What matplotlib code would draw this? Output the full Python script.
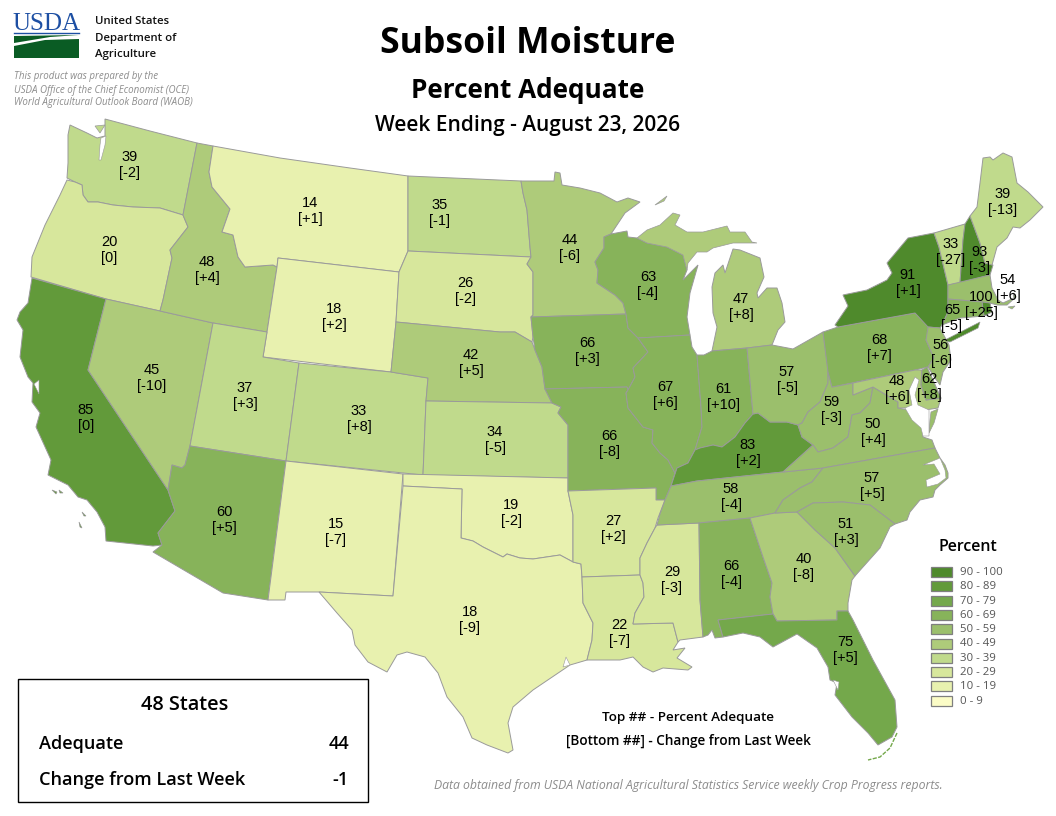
import matplotlib
matplotlib.use("Agg")
import matplotlib.pyplot as plt
from matplotlib.colors import BoundaryNorm, ListedColormap
from matplotlib.patches import Polygon, Rectangle

states = ["WA", "OR", "CA", "NV", "ID", "MT", "WY", "UT", "AZ", "CO", "NM", "ND", "SD", "NE", "KS", "OK",
          "TX", "MN", "IA", "MO", "AR", "LA", "WI", "IL", "MS", "MI", "IN", "KY", "TN", "AL", "GA", "FL",
          "OH", "WV", "VA", "NC", "SC", "PA", "NY", "VT", "NH", "ME", "MA", "RI", "CT", "NJ", "MD", "DE"]
percent = [39, 20, 85, 45, 48, 14, 18, 37, 60, 33, 15, 35, 26, 42, 34, 19,
           18, 44, 66, 66, 27, 22, 63, 67, 29, 47, 61, 83, 58, 66, 40, 75,
           57, 59, 50, 57, 51, 68, 91, 33, 93, 39, 54, 100, 65, 56, 48, 62]
change = ["-2", "0", "0", "-10", "+4", "+1", "+2", "+3", "+5", "+8", "-7", "-1", "-2", "+5", "-5", "-2",
          "-9", "-6", "+3", "-8", "+2", "-7", "-4", "+6", "-3", "+8", "+10", "+2", "-4", "-4", "-8", "+5",
          "-5", "-3", "+4", "+5", "+3", "+7", "+1", "-27", "-3", "-13", "+6", "+25", "-5", "-6", "+6", "+8"]
label_x = [130, 109, 86, 152, 207, 310, 334, 245, 224, 359, 336, 440, 465, 471, 495, 511,
           470, 570, 587, 609, 613, 619, 648, 665, 672, 741, 723, 748, 731, 731, 804, 845,
           787, 832, 873, 872, 846, 879, 908, 951, 979, 1003, 1008, 981, 952, 941, 897, 929]
label_y = [165, 250, 418, 378, 270, 211, 317, 396, 520, 419, 532, 213, 291, 363, 440, 513,
           620, 248, 351, 444, 529, 633, 285, 395, 580, 307, 397, 453, 497, 574, 567, 650,
           380, 410, 432, 486, 532, 348, 283, 252, 260, 202, 288, 305, 318, 353, 389, 387]

legend_labels = ["90 - 100", "80 - 89", "70 - 79", "60 - 69", "50 - 59", "40 - 49", "30 - 39", "20 - 29", "10 - 19", "0 - 9"]
legend_colors = ["#4f8a2c", "#629a3a", "#74a84b", "#87b35a", "#9bbf6c", "#aecb7a", "#c0da8c", "#d7e79c", "#e8f1af", "#fbfcc6"]
bin_edges = [0, 10, 20, 30, 40, 50, 60, 70, 80, 90, 101]

# outlines are in picture pixels
outlines = {
    "WA": [(105,119),(150,131),(197,143),(183,215),(160,208),(133,207),(113,205),(98,202),(88,202),(83,195),(82,185),(75,182),(67,178),(68,163),(68,135),(70,125),(87,133),(97,138),(105,136)],
    "OR": [(67,180),(75,182),(82,185),(83,195),(88,202),(98,202),(113,205),(133,207),(160,208),(183,215),(188,227),(170,250),(172,258),(163,300),(160,311),(106,299),(31,277),(32,257),(45,225),(60,195)],
    "CA": [(32,278),(106,299),(88,370),(168,490),(175,511),(158,533),(162,545),(153,546),(106,541),(105,527),(97,512),(87,500),(78,497),(68,485),(48,475),(51,460),(36,427),(40,413),(32,402),(33,383),(28,377),(20,357),(23,330),(17,320),(20,312),(28,303)],
    "NV": [(106,299),(160,311),(213,323),(190,446),(185,465),(182,468),(172,465),(168,490),(88,370)],
    "ID": [(197,143),(213,146),(209,172),(212,187),(230,209),(222,232),(233,235),(238,257),(245,267),(273,265),(277,267),(267,332),(213,323),(160,311),(163,300),(172,258),(170,250),(188,227),(183,215)],
    "MT": [(213,146),(280,158),(350,168),(408,176),(408,251),(399,272),(278,258),(277,267),(273,265),(245,267),(238,257),(233,235),(222,232),(230,209),(212,187),(209,172)],
    "WY": [(278,258),(399,272),(396,322),(391,372),(263,357),(267,332),(277,267)],
    "UT": [(213,323),(267,332),(263,357),(299,363),(286,461),(190,446)],
    "AZ": [(190,446),(286,461),(268,600),(223,593),(153,552),(162,545),(158,533),(175,511),(168,490),(172,465),(182,468),(185,465)],
    "CO": [(299,363),(391,372),(428,378),(426,401),(423,475),(286,461)],
    "NM": [(286,461),(403,474),(393,596),(319,592),(286,592),(285,600),(268,600)],
    "ND": [(408,176),(521,181),(523,193),(527,210),(530,247),(531,257),(408,251)],
    "SD": [(408,251),(531,257),(527,264),(533,272),(533,315),(531,317),(533,337),(532,342),(515,332),(500,332),(396,322),(399,272)],
    "NE": [(396,322),(500,332),(515,332),(532,342),(535,350),(542,367),(545,389),(552,403),(426,401),(428,378),(391,372)],
    "KS": [(426,401),(552,403),(561,407),(558,413),(568,425),(568,478),(423,475)],
    "OK": [(403,474),(568,478),(568,491),(573,515),(573,562),(560,555),(533,559),(520,558),(507,554),(503,557),(483,547),(473,541),(461,538),(462,489),(403,486)],
    "TX": [(403,486),(462,489),(461,538),(473,541),(483,547),(503,557),(507,554),(520,558),(533,559),(560,555),(573,562),(581,564),(582,577),(583,603),(593,623),(592,640),(587,660),(570,665),(533,690),(513,707),(508,723),(513,750),(508,753),(487,745),(472,738),(463,717),(447,697),(438,673),(425,657),(407,652),(397,655),(387,672),(368,662),(355,645),(352,630),(337,613),(319,592),(393,596)],
    "MN": [(521,181),(554,181),(555,172),(560,173),(562,185),(580,188),(600,193),(617,202),(628,198),(640,202),(625,213),(611,234),(604,237),(604,248),(595,262),(598,270),(597,283),(615,295),(623,303),(626,314),(531,317),(533,315),(533,272),(527,264),(531,257),(530,247),(527,210),(523,193)],
    "IA": [(531,317),(626,314),(628,328),(638,338),(648,352),(633,368),(635,377),(628,390),(627,387),(545,389),(542,367),(535,350),(533,337)],
    "MO": [(545,389),(627,387),(628,390),(626,393),(628,408),(643,427),(653,430),(652,443),(660,453),(668,460),(675,473),(671,486),(665,500),(656,500),(656,488),(568,491),(568,425),(558,413),(561,407),(552,403)],
    "AR": [(568,491),(656,488),(656,500),(665,500),(658,518),(655,528),(647,543),(640,558),(640,575),(582,577),(581,564),(573,562),(573,515)],
    "LA": [(582,577),(640,575),(643,583),(644,597),(635,613),(633,624),(673,623),(678,642),(673,650),(685,648),(677,658),(692,667),(688,670),(663,668),(653,672),(643,667),(633,657),(620,660),(587,660),(592,640),(593,623),(583,603)],
    "WI": [(604,237),(611,234),(627,231),(628,237),(637,238),(647,243),(667,247),(683,255),(687,270),(683,280),(698,265),(690,293),(687,317),(690,335),(638,338),(628,328),(626,314),(623,303),(615,295),(597,283),(598,270),(595,262),(604,248)],
    "IL": [(638,338),(690,335),(692,347),(697,355),(701,407),(702,427),(695,450),(688,463),(677,468),(675,473),(668,460),(660,453),(652,443),(653,430),(643,427),(628,408),(626,393),(628,390),(635,377),(633,368),(648,352)],
    "MS": [(657,525),(699,523),(700,600),(703,637),(680,640),(678,642),(673,623),(633,624),(635,613),(644,597),(643,583),(640,575),(640,558),(647,543),(655,528)],
    "MI": [(712,351),(717,327),(713,313),(712,287),(715,273),(723,265),(725,273),(733,249),(740,250),(760,258),(764,277),(757,293),(758,298),(767,288),(777,288),(782,303),(785,322),(778,330),(772,345),(747,348)],
    "IN": [(697,355),(704,355),(712,351),(747,348),(753,414),(745,423),(735,437),(722,447),(713,445),(700,448),(695,450),(702,427),(701,407)],
    "KY": [(671,486),(677,468),(688,463),(695,450),(700,448),(713,445),(722,447),(735,437),(745,423),(753,414),(758,413),(770,422),(787,422),(798,425),(802,437),(813,445),(783,472),(697,481)],
    "TN": [(671,486),(697,481),(783,472),(823,468),(812,482),(800,488),(783,500),(775,513),(750,518),(699,523),(657,525),(660,514),(665,500)],
    "AL": [(699,523),(750,518),(763,557),(772,583),(770,597),(773,614),(718,620),(723,637),(715,638),(712,630),(708,635),(703,637),(700,600)],
    "GA": [(750,518),(775,513),(797,512),(815,530),(835,548),(855,576),(852,580),(848,603),(848,611),(837,611),(837,620),(777,621),(773,614),(770,597),(772,583),(763,557)],
    "FL": [(718,620),(773,614),(777,621),(837,620),(837,611),(848,611),(853,620),(873,660),(895,700),(897,727),(892,737),(878,745),(868,733),(852,717),(835,695),(837,683),(830,680),(828,667),(817,648),(797,634),(773,647),(760,637),(743,633),(723,637)],
    "OH": [(747,348),(772,345),(793,349),(823,332),(828,370),(828,383),(820,402),(808,412),(802,423),(798,425),(787,422),(770,422),(758,413),(753,414)],
    "WV": [(828,372),(832,387),(853,383),(853,395),(873,387),(870,403),(860,413),(852,415),(848,437),(833,448),(818,452),(813,445),(802,437),(798,425),(802,423),(808,412),(820,402),(828,383)],
    "VA": [(873,387),(898,402),(898,408),(908,410),(921,415),(923,437),(932,440),(935,448),(823,468),(783,472),(813,445),(818,452),(833,448),(848,437),(852,415),(860,413),(870,403)],
    "NC": [(823,468),(935,448),(940,458),(945,465),(948,473),(948,478),(940,485),(935,490),(933,497),(920,500),(910,512),(907,520),(895,524),(870,505),(843,502),(813,503),(797,512),(775,513),(783,500),(800,488),(812,482)],
    "SC": [(797,512),(813,503),(843,502),(870,505),(895,524),(890,527),(880,548),(863,567),(855,576),(835,548),(815,530)],
    "PA": [(823,332),(838,327),(915,313),(930,327),(926,340),(934,358),(928,367),(915,370),(832,387),(828,372)],
    "NY": [(835,325),(848,306),(843,295),(867,290),(887,280),(892,273),(887,263),(908,238),(934,233),(939,247),(948,285),(948,312),(942,325),(940,328),(928,327),(915,313),(838,327)],
    "VT": [(934,233),(965,224),(963,240),(960,283),(948,285),(939,247)],
    "NH": [(965,224),(970,216),(980,243),(985,263),(993,265),(990,275),(960,283),(963,240)],
    "ME": [(970,216),(977,207),(980,183),(983,158),(990,157),(993,160),(1003,153),(1012,157),(1017,183),(1028,192),(1043,207),(1030,220),(1020,228),(1013,227),(1007,238),(997,247),(992,265),(985,263),(980,243)],
    "MA": [(948,285),(990,275),(992,288),(998,300),(1003,303),(1014,298),(1013,293),(1016,297),(1007,305),(997,305),(990,303),(982,302),(948,299)],
    "RI": [(982,302),(990,303),(992,312),(984,316)],
    "CT": [(948,299),(982,302),(984,316),(960,318),(942,325),(948,312)],
    "NJ": [(928,327),(940,328),(949,345),(951,360),(943,372),(940,385),(935,378),(928,367),(934,358),(926,340)],
    "MD": [(853,383),(915,370),(922,370),(921,385),(926,400),(941,398),(938,408),(925,410),(908,408),(898,408),(898,402),(873,387),(853,395)],
    "DE": [(922,370),(927,367),(933,380),(941,398),(926,400),(921,385)],
}

# pieces of a state apart from the main outline
extra_parts = {
    "WA": [[(95,126),(105,125),(100,133)]],
    "MI": [[(637,238),(647,230),(660,225),(673,213),(680,215),(675,225),(687,232),(703,232),(727,226),(730,232),(745,232),(752,242),(757,243),(733,243),(713,248),(707,252),(697,252),(688,263),(687,270),(683,255),(667,247),(647,243)],
           [(655,205),(667,196),(664,201)]],
    "NY": [[(943,341),(980,322),(978,328),(950,342)]],
    "VA": [[(931,412),(938,409),(934,423),(929,433),(930,420)]],
    "CA": [[(52,490),(57,492),(56,494)], [(59,490),(63,493),(60,493)], [(82,512),(86,516),(84,516)], [(79,522),(82,528),(80,527)]],
    "MA": [[(1008,307),(1015,306),(1012,309)]],
}

# bays and sounds, cut out in white
water = [
    [(101,138),(106,136),(105,145),(101,160),(99,160),(100,145)],
    [(34,384),(39,380),(39,394),(36,388)],
    [(915,377),(919,380),(915,395),(918,405),(929,410),(929,436),(923,436),(921,428),(912,420),(905,408),(912,405),(909,390)],
    [(923,465),(940,458),(945,470),(946,478),(938,484),(927,487),(926,480),(940,474),(934,464)],
    [(833,680),(839,682),(838,690)],
    [(563,667),(566,657),(570,665)],
]

colormap = ListedColormap(legend_colors[::-1])
norm = BoundaryNorm(bin_edges, colormap.N)
edge_gray = "#9a9a9a"

plt.rcParams["font.family"] = ["Open Sans", "DejaVu Sans"]

fig = plt.figure(figsize=(10.56, 8.16), dpi=100)
ax = fig.add_axes([0, 0, 1, 1])
ax.set_xlim(0, 1056)
ax.set_ylim(816, 0)
ax.axis("off")

for state, pct, chg, lx, ly in zip(states, percent, change, label_x, label_y):
    color = colormap(norm(pct))
    ax.add_patch(Polygon(outlines[state], closed=True, facecolor=color, edgecolor=edge_gray, linewidth=0.7, zorder=2))
    for part in extra_parts.get(state, []):
        ax.add_patch(Polygon(part, closed=True, facecolor=color, edgecolor=edge_gray, linewidth=0.5, zorder=2))
    ax.text(lx, ly, "{}\n[{}]".format(pct, chg), ha="center", va="center", family="Liberation Sans",
            fontsize=10.5, linespacing=1.25, color="black", zorder=5)

for piece in water:
    ax.add_patch(Polygon(piece, closed=True, facecolor="white", edgecolor=edge_gray, linewidth=0.4, zorder=3))

ax.plot([897, 890, 880, 868], [733, 748, 757, 760], color=legend_colors[2], lw=1, ls=(0, (3, 1)), zorder=2)

# titles
ax.text(528, 44, "Subsoil Moisture", ha="center", va="center", fontsize=25.7, fontweight="bold", color="black")
ax.text(528, 91, "Percent Adequate", ha="center", va="center", fontsize=18.8, fontweight="bold", color="black")
ax.text(528, 126, "Week Ending - August 23, 2026", ha="center", va="center", fontsize=15, fontweight="semibold", color="black")

# USDA logo
ax.text(46.5, 24, "USDA", ha="center", va="center", family="Liberation Serif", fontsize=18, color="#1d4fa3")
ax.plot([14, 79], [33, 33], color="#1d4fa3", lw=1)
ax.add_patch(Polygon([(14,36),(79,35),(50,37),(14,43)], closed=True, facecolor="#0a5c24", edgecolor="none"))
ax.add_patch(Polygon([(14,46),(45,40),(79,39),(79,58),(14,58)], closed=True, facecolor="#0a5c24", edgecolor="none"))
ax.text(95, 21, "United States", va="center", fontsize=8.2, fontweight="semibold", color="#111111")
ax.text(95, 38, "Department of", va="center", fontsize=8.2, fontweight="semibold", color="#111111")
ax.text(95, 54, "Agriculture", va="center", fontsize=8.2, fontweight="semibold", color="#111111")
ax.text(14, 77, "This product was prepared by the", va="center", fontsize=7.05, style="italic", color="#8c8c8c")
ax.text(14, 90, "USDA Office of the Chief Economist (OCE)", va="center", fontsize=7.05, style="italic", color="#8c8c8c")
ax.text(14, 103, "World Agricultural Outlook Board (WAOB)", va="center", fontsize=7.05, style="italic", color="#8c8c8c")

# legend
ax.text(968, 547, "Percent", ha="center", va="center", fontsize=11.5, fontweight="semibold", color="black")
for i, (lab, col) in enumerate(zip(legend_labels, legend_colors)):
    y = 567 + i * 14.3
    ax.add_patch(Rectangle((931, y), 21, 10, facecolor=col, edgecolor="#7f7f7f", linewidth=0.9))
    ax.text(960, y + 5.5, lab, va="center", fontsize=8.2, color="#555555")

# national summary box
ax.add_patch(Rectangle((18, 679), 350, 123, facecolor="white", edgecolor="black", linewidth=1))
ax.text(185, 705, "48 States", ha="center", va="center", fontsize=14.3, fontweight="semibold", color="black")
ax.text(39, 744, "Adequate", va="center", fontsize=13.1, fontweight="semibold", color="black")
ax.text(349, 744, "44", ha="right", va="center", fontsize=13.1, fontweight="semibold", color="black")
ax.text(39, 780, "Change from Last Week", va="center", fontsize=13.1, fontweight="semibold", color="black")
ax.text(349, 780, "-1", ha="right", va="center", fontsize=13.1, fontweight="semibold", color="black")

ax.text(688, 717, "Top ## - Percent Adequate", ha="center", va="center", fontsize=9.7, fontweight="semibold", color="black")
ax.text(688, 741, "[Bottom ##] - Change from Last Week", ha="center", va="center", fontsize=9.8, fontweight="semibold", color="black")
ax.text(688, 786, "Data obtained from USDA National Agricultural Statistics Service weekly Crop Progress reports.",
        ha="center", va="center", fontsize=8.8, style="italic", color="#8c8c8c")

fig.savefig("out.png", dpi=100)
